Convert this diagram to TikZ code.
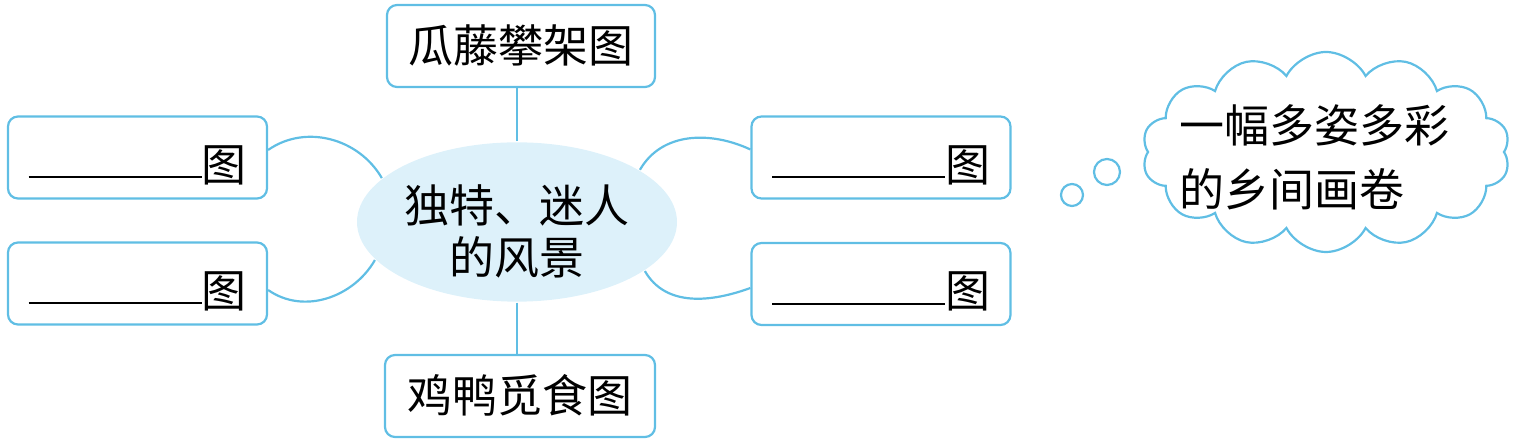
\documentclass[tikz,border=0pt]{standalone}
\usepackage{fontspec}
\setmainfont{Noto Sans CJK SC}
\usetikzlibrary{shapes.geometric,shapes.symbols}
\definecolor{mapblue}{RGB}{96,190,228}
\definecolor{mapfill}{RGB}{221,241,250}
\newcommand{\blankline}{\rule[3pt]{173pt}{2.2pt}}

\begin{document}
\begin{tikzpicture}[x=1pt,y=1pt,line width=2.2pt]
  \tikzstyle{every node}=[font=\fontsize{45}{52}\selectfont,inner sep=0pt]
  \tikzstyle{box}=[draw=mapblue,rounded corners=10pt,minimum height=82pt,text height=33pt,text depth=0pt]
  \tikzstyle{blankbox}=[box,minimum width=259pt,text height=48pt]
  \tikzstyle{link}=[draw=mapblue]
  \useasboundingbox (0,0) rectangle (1513,443);
  \node[ellipse,fill=mapfill,minimum width=320pt,minimum height=153pt,align=center] (mid) at (517,221) {\rule{0pt}{57pt}独特、迷人\\的风景};
  \node[box,minimum width=268pt] (top) at (521,397) {瓜藤攀架图};
  \node[box,minimum width=270pt] (bottom) at (520,47) {鸡鸭觅食图};
  \node[blankbox] (lefttop) at (137.5,285.5) {\blankline 图};
  \node[blankbox] (leftbottom) at (137.5,159.5) {\blankline 图};
  \node[blankbox] (righttop) at (881,285.5) {\blankline 图};
  \node[blankbox] (rightbottom) at (881,159) {\blankline 图};
  \node[cloud,draw=mapblue,cloud puffs=14,cloud puff arc=125,cloud ignores aspect,minimum width=368pt,minimum height=200pt] (thought) at (1326,291) {};
  \node[align=left,font=\fontsize{45}{64}\selectfont] (thoughttext) at (1314,286) {一幅多姿多彩\\的乡间画卷};
  \node[circle,draw=mapblue,minimum size=22pt] (dot1) at (1072,248) {};
  \node[circle,draw=mapblue,minimum size=26pt] (dot2) at (1107,271) {};
  \draw[link] (mid.north) -- (mid.north |- top.south);
  \draw[link] (mid.south) -- (mid.south |- bottom.north);
  \draw[link] ([yshift=7.5pt]lefttop.east) to[out=35,in=120] (mid.162);
  \draw[link] ([yshift=-6.5pt]leftbottom.east) to[out=-35,in=-120] (mid.195);
  \draw[link] (mid.23) to[out=60,in=155] ([yshift=8pt]righttop.west);
  \draw[link] (mid.-21) to[out=-60,in=-160] ([yshift=-4pt]rightbottom.west);
\end{tikzpicture}
\end{document}
